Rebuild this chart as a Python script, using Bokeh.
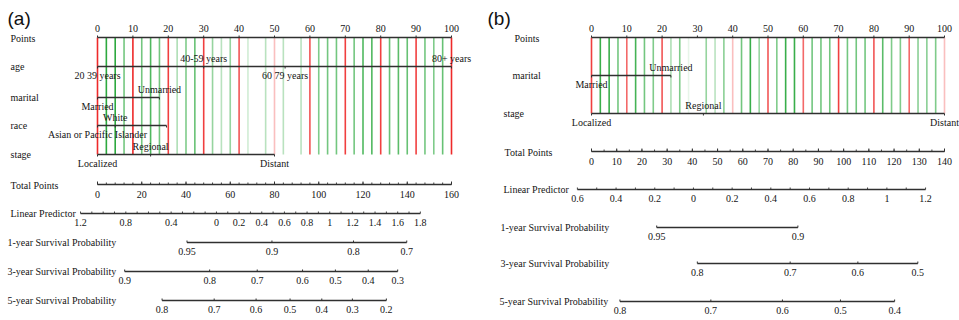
from bokeh.plotting import figure
from bokeh.layouts import row
from bokeh.models import Range1d
from bokeh.core.properties import value
from bokeh.embed import file_html
from bokeh.resources import INLINE

# ---------------- data : panel (a) ----------------
A_POINTS_TICKS = [0, 10, 20, 30, 40, 50, 60, 70, 80, 90, 100]
A_AGE_LEVELS = ["20 39 years", "40-59 years", "60 79 years", "80+ years"]
A_AGE_PTS = [0, 30, 53, 100]
A_MARITAL_LEVELS = ["Married", "Unmarried"]
A_MARITAL_PTS = [0, 17.5]
A_RACE_LEVELS = ["Asian or Pacific Islander", "White", ""]
A_RACE_PTS = [0, 5, 19.5]
A_STAGE_LEVELS = ["Localized", "Regional", "Distant"]
A_STAGE_PTS = [0, 15, 50]
A_TOTAL_MAX = 160
A_TOTAL_TICKS = [0, 20, 40, 60, 80, 100, 120, 140, 160]
A_LP_TICKS = [-1.2, -0.8, -0.4, 0, 0.2, 0.4, 0.6, 0.8, 1, 1.2, 1.4, 1.6, 1.8]
A_LP_LABELS = ["1.2", "0.8", "0.4", "0", "0.2", "0.4", "0.6", "0.8", "1", "1.2", "1.4", "1.6", "1.8"]
A_S1 = [0.95, 0.9, 0.8, 0.7]
A_S1_LP = [-0.26, 0.49, 1.21, 1.68]
A_S3 = [0.9, 0.8, 0.7, 0.6, 0.5, 0.4, 0.3]
A_S3_LP = [-0.81, -0.06, 0.36, 0.76, 1.05, 1.34, 1.60]
A_S5 = [0.8, 0.7, 0.6, 0.5, 0.4, 0.3, 0.2]
A_S5_LP = [-0.48, -0.02, 0.35, 0.65, 0.93, 1.20, 1.50]
A_LP_AT_ZERO_POINTS = -1.05   # LP value at points = 0
A_POINTS_PER_LP = 32.0

# ---------------- data : panel (b) ----------------
B_POINTS_TICKS = [0, 10, 20, 30, 40, 50, 60, 70, 80, 90, 100]
B_MARITAL_LEVELS = ["Married", "Unmarried"]
B_MARITAL_PTS = [0, 22.5]
B_STAGE_LEVELS = ["Localized", "Regional", "Distant"]
B_STAGE_PTS = [0, 31.7, 100]
B_TOTAL_MAX = 140
B_TOTAL_TICKS = [0, 10, 20, 30, 40, 50, 60, 70, 80, 90, 100, 110, 120, 130, 140]
B_LP_TICKS = [-0.6, -0.4, -0.2, 0, 0.2, 0.4, 0.6, 0.8, 1, 1.2]
B_LP_LABELS = ["0.6", "0.4", "0.2", "0", "0.2", "0.4", "0.6", "0.8", "1", "1.2"]
B_S1 = [0.95, 0.9]
B_S1_LP = [-0.19, 0.54]
B_S3 = [0.8, 0.7, 0.6, 0.5]
B_S3_LP = [0.02, 0.50, 0.85, 1.16]
B_S5 = [0.8, 0.7, 0.6, 0.5, 0.4]
B_S5_LP = [-0.38, 0.09, 0.46, 0.76, 1.04]
B_LP_AT_ZERO_POINTS = -0.527
B_POINTS_PER_LP = 54.8

# ---------------- styles ----------------
GRID_STEP = 2.5
A_GRID_ALPHA = [1.0, .9, .9, .6, 1.0, .6, .75, .6, .9, .35, .55, .65, .9, .45, .3, .45,
                .8, .2, 0, .3, .3, .3, 0, .3, .8, .55, .6, .6, .9, .6, .75, .75,
                .9, .65, .7, .65, .9, .6, .55, .65, 1.0]
B_GRID_ALPHA = [.9, .85, .85, .6, .7, .8, .6, .55, .8, .35, .55, .1, 0, .45, .3, .5,
                .3, .6, .85, .45, .8, .55, .85, .85, .7, .6, .6, .6, .9, .6, .6, .6,
                .8, .7, .55, .55, .7, .5, .5, .55, .3]
RED = "#ee2a2a"
GREEN = "#16a02a"
AXIS = "#303030"
SERIF = "Liberation Serif"
FS = "10px"


def make_panel(width, origin_px, px_per_pt, tag, tag_px, rows, cats, cat_bottom,
               points_ticks, total_max, total_ticks, total_minor, lp_ticks, lp_labels,
               lp0, ppl, lp_minor, survs, grid_alpha, label_px):
    def d(px):
        return (px - origin_px) / px_per_pt

    p = figure(width=width, height=320, x_range=Range1d(d(0), d(width)),
               y_range=Range1d(320, 0), output_backend="svg", toolbar_location=None,
               x_axis_location=None, y_axis_location=None, min_border=0,
               outline_line_color=None, background_fill_color="white",
               border_fill_color="white")
    p.grid.visible = False

    def txt(xs, ys, texts, align="center", size=FS, font=SERIF, color="#151515"):
        p.text(x=xs, y=ys, text=texts, text_align=align, text_baseline="middle",
               text_font=value(font), text_font_size=size, text_color=color)

    def hl(x0, x1, y, w=1.4):
        p.segment(x0=[x0], y0=[y], x1=[x1], y1=[y], line_color=AXIS, line_width=w)

    def tk(xs, y, ln, w=1.0):
        p.segment(x0=xs, y0=[y] * len(xs), x1=xs, y1=[y + ln] * len(xs),
                  line_color=AXIS, line_width=w)

    # panel tag
    txt([d(tag_px[0])], [tag_px[1]], [tag], align="left", size="19px",
        font="Liberation Sans", color="#111111")

    # row labels
    for name, y in rows.items():
        txt([d(label_px[name])], [y], [name], align="left")

    # vertical reference lines
    y_top = rows["Points"] - 1
    xs = [i * GRID_STEP for i in range(len(grid_alpha))]
    for i, x in enumerate(xs):
        a = grid_alpha[i]
        if a <= 0:
            continue
        col = RED if i % 4 == 0 else GREEN
        p.segment(x0=[x], y0=[y_top], x1=[x], y1=[cat_bottom], line_color=col,
                  line_alpha=a, line_width=1.6)

    # Points axis
    yP = rows["Points"] - 1
    hl(points_ticks[0], points_ticks[-1], yP)
    tk(points_ticks, yP, -2)
    txt(points_ticks, [yP - 9] * len(points_ticks), [str(t) for t in points_ticks])

    # categorical axes
    for name, (levels, pts) in cats.items():
        y = rows[name]
        hl(min(pts), max(pts), y)
        tk(pts, y, 2)
        for j, (lab, x) in enumerate(zip(levels, pts)):
            if not lab:
                continue
            yy = y + 9 if j % 2 == 0 else y - 8
            txt([x], [yy], [lab])

    # Total points axis
    f = 100.0 / total_max
    yT = rows["Total Points"] - 1
    hl(0, total_max * f, yT)
    minor = [k * total_minor * f for k in range(int(total_max / total_minor) + 1)]
    tk(minor, yT, -2, 0.9)
    tk([t * f for t in total_ticks], yT, -3)
    txt([t * f for t in total_ticks], [yT + 10] * len(total_ticks),
        [str(t) for t in total_ticks])

    def lp2pt(v):
        return (v - lp0) * ppl

    # Linear predictor axis
    yL = rows["Linear Predictor"]
    hl(lp2pt(lp_ticks[0]), lp2pt(lp_ticks[-1]), yL)
    n = int(round((lp_ticks[-1] - lp_ticks[0]) / lp_minor))
    tk([lp2pt(lp_ticks[0] + k * lp_minor) for k in range(n + 1)], yL, -2, 0.9)
    txt([lp2pt(v) for v in lp_ticks], [yL + 9] * len(lp_ticks), lp_labels)

    # survival axes
    for name, (probs, lps) in survs.items():
        y = rows[name]
        xs2 = [lp2pt(v) for v in lps]
        hl(xs2[0], xs2[-1], y)
        tk(xs2, y, -2)
        txt(xs2, [y + 9] * len(xs2), [str(v) for v in probs])
    return p


rows_a = {"Points": 38, "age": 66, "marital": 97, "race": 125, "stage": 154,
          "Total Points": 185, "Linear Predictor": 213,
          "1-year Survival Probability": 242, "3-year Survival Probability": 271,
          "5-year Survival Probability": 300}
lab_a = {k: 10 for k in rows_a}
for k in ["1-year Survival Probability", "3-year Survival Probability", "5-year Survival Probability"]:
    lab_a[k] = 7
cats_a = {"age": (A_AGE_LEVELS, A_AGE_PTS), "marital": (A_MARITAL_LEVELS, A_MARITAL_PTS),
          "race": (A_RACE_LEVELS, A_RACE_PTS), "stage": (A_STAGE_LEVELS, A_STAGE_PTS)}
surv_a = {"1-year Survival Probability": (A_S1, A_S1_LP),
          "3-year Survival Probability": (A_S3, A_S3_LP),
          "5-year Survival Probability": (A_S5, A_S5_LP)}
pa = make_panel(480, 97, 3.54, "(a)", (7, 18), rows_a, cats_a, 154,
                A_POINTS_TICKS, A_TOTAL_MAX, A_TOTAL_TICKS, 4, A_LP_TICKS, A_LP_LABELS,
                A_LP_AT_ZERO_POINTS, A_POINTS_PER_LP, 0.1, surv_a, A_GRID_ALPHA, lab_a)

rows_b = {"Points": 38, "marital": 75, "stage": 113, "Total Points": 152,
          "Linear Predictor": 189, "1-year Survival Probability": 227,
          "3-year Survival Probability": 263, "5-year Survival Probability": 301}
lab_b = {"Points": 34, "marital": 32, "stage": 23, "Total Points": 24,
         "Linear Predictor": 23, "1-year Survival Probability": 20,
         "3-year Survival Probability": 20, "5-year Survival Probability": 19}
cats_b = {"marital": (B_MARITAL_LEVELS, B_MARITAL_PTS), "stage": (B_STAGE_LEVELS, B_STAGE_PTS)}
surv_b = {"1-year Survival Probability": (B_S1, B_S1_LP),
          "3-year Survival Probability": (B_S3, B_S3_LP),
          "5-year Survival Probability": (B_S5, B_S5_LP)}
pb = make_panel(479, 111, 3.53, "(b)", (7, 18), rows_b, cats_b, 113,
                B_POINTS_TICKS, B_TOTAL_MAX, B_TOTAL_TICKS, 5, B_LP_TICKS, B_LP_LABELS,
                B_LP_AT_ZERO_POINTS, B_POINTS_PER_LP, 0.1, surv_b, B_GRID_ALPHA, lab_b)

layout = row(pa, pb, spacing=0)
open("out.html", "w").write(file_html(layout, INLINE))
